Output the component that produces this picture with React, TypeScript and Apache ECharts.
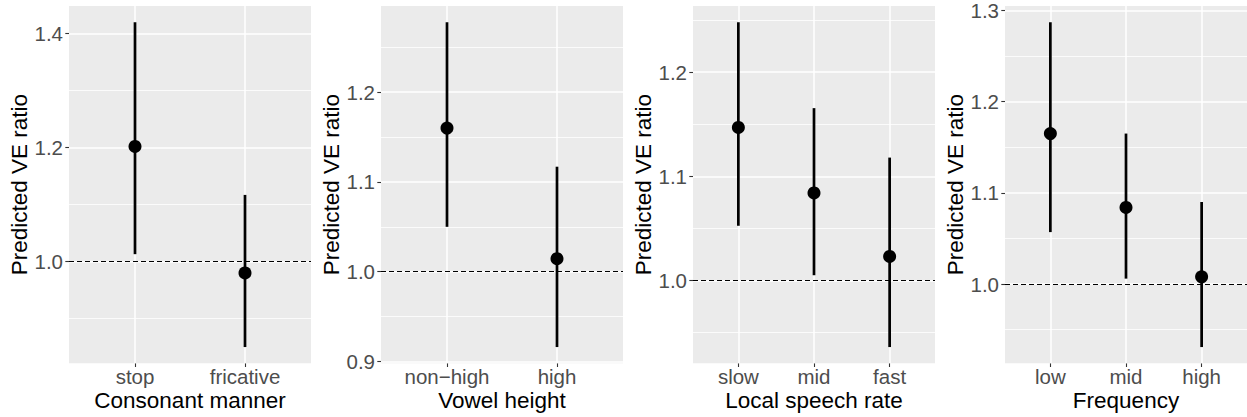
import React, { useEffect, useRef } from "react";
import * as echarts from "echarts";

// Panel 1: Consonant manner
const mannerCats = ["stop", "fricative"];
const mannerEst = [1.202, 0.98];
const mannerLo = [1.013, 0.85];
const mannerHi = [1.42, 1.117];
const mannerMajor = [1.0, 1.2, 1.4];
const mannerMinor = [0.9, 1.1, 1.3];

// Panel 2: Vowel height
const vowelCats = ["non\u2212high", "high"];
const vowelEst = [1.16, 1.0145];
const vowelLo = [1.05, 0.916];
const vowelHi = [1.278, 1.117];
const vowelMajor = [0.9, 1.0, 1.1, 1.2];
const vowelMinor = [0.95, 1.05, 1.15, 1.25];

// Panel 3: Local speech rate
const rateCats = ["slow", "mid", "fast"];
const rateEst = [1.147, 1.084, 1.023];
const rateLo = [1.0525, 1.005, 0.936];
const rateHi = [1.248, 1.1655, 1.118];
const rateMajor = [1.0, 1.1, 1.2];
const rateMinor = [0.95, 1.05, 1.15, 1.25];

// Panel 4: Frequency
const freqCats = ["low", "mid", "high"];
const freqEst = [1.165, 1.084, 1.008];
const freqLo = [1.057, 1.006, 0.931];
const freqHi = [1.287, 1.165, 1.09];
const freqMajor = [1.0, 1.1, 1.2, 1.3];
const freqMinor = [0.95, 1.05, 1.15, 1.25];

const refValue = 1.0;
const yTitle = "Predicted VE ratio";

const panels = [
  { title: "Consonant manner", cats: mannerCats, est: mannerEst, lo: mannerLo, hi: mannerHi, major: mannerMajor, minor: mannerMinor },
  { title: "Vowel height", cats: vowelCats, est: vowelEst, lo: vowelLo, hi: vowelHi, major: vowelMajor, minor: vowelMinor },
  { title: "Local speech rate", cats: rateCats, est: rateEst, lo: rateLo, hi: rateHi, major: rateMajor, minor: rateMinor },
  { title: "Frequency", cats: freqCats, est: freqEst, lo: freqLo, hi: freqHi, major: freqMajor, minor: freqMinor },
];

const FONT = "'Liberation Sans', Arial, Helvetica, sans-serif";

export default function App() {
  const ref = useRef<HTMLDivElement>(null);
  useEffect(() => {
    document.body.style.margin = "0";
    if (!ref.current) return;
    const chart = echarts.init(ref.current, undefined, { renderer: "svg" });
    const grids: any[] = [];
    const xAxes: any[] = [];
    const yAxes: any[] = [];
    const series: any[] = [];
    panels.forEach((p, i) => {
      const n = p.cats.length;
      const lo = Math.min(...p.lo);
      const hi = Math.max(...p.hi);
      const pad = (hi - lo) * 0.05;
      const positions = p.cats.map((_, k) => k + 1);
      grids.push({
        left: 69 + i * 312,
        top: 6,
        width: 242,
        height: 357.3,
        show: true,
        backgroundColor: "#EBEBEB",
        borderWidth: 0,
        containLabel: false,
        outerBoundsMode: "none",
      });
      xAxes.push({
        type: "value",
        gridIndex: i,
        min: 0.4,
        max: n + 0.6,
        axisLine: { show: false },
        splitLine: { show: false },
        axisTick: { show: true, customValues: positions, length: 3.7, lineStyle: { color: "#333333", width: 1.1 } },
        axisLabel: {
          show: true,
          customValues: positions,
          formatter: (v: number) => p.cats[Math.round(v) - 1] ?? "",
          color: "#4D4D4D",
          fontSize: 20.5,
          lineHeight: 19,
          fontFamily: FONT,
          margin: 3.25,
        },
        name: p.title,
        nameLocation: "middle",
        nameGap: 26.25,
        nameMoveOverlap: false,
        nameTextStyle: { fontSize: 22.5, lineHeight: 21, color: "#000000", fontFamily: FONT, verticalAlign: "top" },
      });
      yAxes.push({
        type: "value",
        gridIndex: i,
        min: lo - pad,
        max: hi + pad,
        axisLine: { show: false },
        splitLine: { show: false },
        axisTick: { show: true, customValues: p.major, length: 3.7, lineStyle: { color: "#333333", width: 1.1 } },
        axisLabel: {
          show: true,
          customValues: p.major,
          formatter: (v: number) => v.toFixed(1),
          color: "#4D4D4D",
          fontSize: 20.5,
          fontFamily: FONT,
          margin: 6,
        },
        name: yTitle,
        nameLocation: "middle",
        nameGap: 38,
        nameMoveOverlap: false,
        nameTextStyle: { fontSize: 22.5, color: "#000000", fontFamily: FONT },
      });
      const silentLine = { symbol: ["none", "none"], silent: true, label: { show: false }, emphasis: { disabled: true } };
      // grid lines
      series.push({
        type: "line",
        xAxisIndex: i,
        yAxisIndex: i,
        data: [],
        z: 1,
        markLine: {
          ...silentLine,
          z: 1,
          animation: false,
          data: p.minor.map((v) => ({ yAxis: v, lineStyle: { color: "#FFFFFF", width: 0.8, type: "solid" } })),
        },
      });
      series.push({
        type: "line",
        xAxisIndex: i,
        yAxisIndex: i,
        data: [],
        z: 1,
        markLine: {
          ...silentLine,
          z: 1.2,
          animation: false,
          data: [
            ...p.major.map((v) => ({ yAxis: v, lineStyle: { color: "#FFFFFF", width: 1.5, type: "solid" } })),
            ...positions.map((v) => ({ xAxis: v, lineStyle: { color: "#FFFFFF", width: 1.5, type: "solid" } })),
          ],
        },
      });
      // reference dashed line
      series.push({
        type: "line",
        xAxisIndex: i,
        yAxisIndex: i,
        data: [],
        z: 1.5,
        markLine: {
          ...silentLine,
          z: 1.5,
          animation: false,
          data: [{ yAxis: refValue, lineStyle: { color: "#000000", width: 1.1, type: [5, 3] } }],
        },
      });
      // error bars
      series.push({
        type: "custom",
        xAxisIndex: i,
        yAxisIndex: i,
        z: 2,
        encode: { x: 0, y: [1, 2] },
        data: positions.map((x, k) => [x, p.lo[k], p.hi[k]]),
        renderItem: (_params: any, api: any) => {
          const x = api.value(0);
          const a = api.coord([x, api.value(1)]);
          const b = api.coord([x, api.value(2)]);
          return {
            type: "line",
            shape: { x1: a[0], y1: a[1], x2: b[0], y2: b[1] },
            style: { stroke: "#000000", lineWidth: 2.7 },
          };
        },
      });
      // points
      series.push({
        type: "scatter",
        xAxisIndex: i,
        yAxisIndex: i,
        z: 3,
        symbol: "circle",
        symbolSize: 13,
        itemStyle: { color: "#000000", opacity: 1 },
        data: positions.map((x, k) => [x, p.est[k]]),
      });
    });
    chart.setOption({
      animation: false,
      backgroundColor: "#FFFFFF",
      grid: grids,
      xAxis: xAxes,
      yAxis: yAxes,
      series,
    });
    return () => chart.dispose();
  }, []);
  return <div ref={ref} style={{ width: 1247, height: 417 }} />;
}
